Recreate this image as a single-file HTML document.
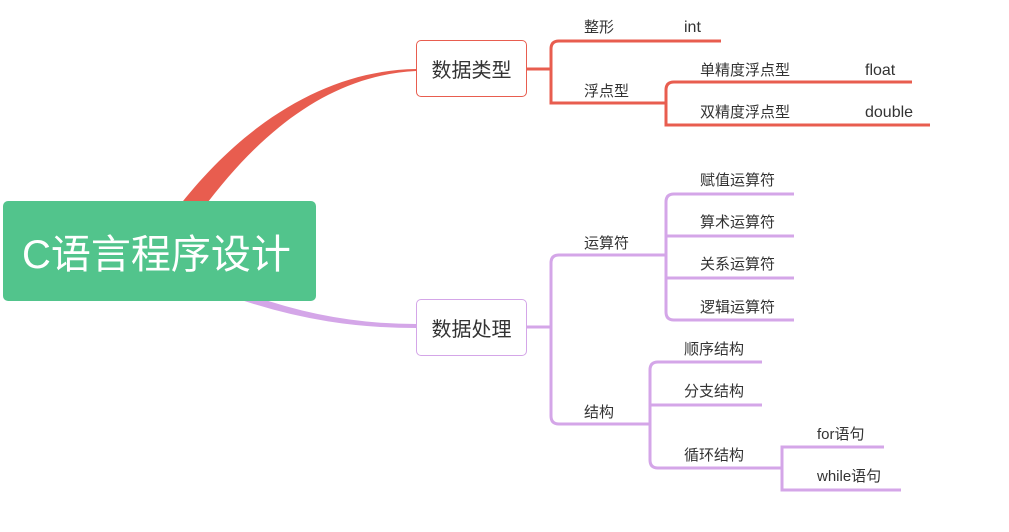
<!DOCTYPE html>
<html><head><meta charset="utf-8"><style>
body{margin:0;background:#fff;width:1009px;height:532px;overflow:hidden;position:relative;font-family:"Liberation Sans","Noto Sans CJK SC",sans-serif;}
.t{position:absolute;font-size:15px;color:#333;white-space:nowrap;line-height:18px;}
.n{position:absolute;box-sizing:border-box;background:#fff;border-radius:5px;font-size:20px;color:#333;display:flex;align-items:center;justify-content:center;}
</style></head><body>
<svg width="1009" height="532" style="position:absolute;left:0;top:0">
<path d="M176 210 C245 120 330 70 416 69 L416 71 C335 75 265 125 202 210 Z" fill="#e85d4f"/>
<path d="M230 295 C300 320 360 327 416 327 L416 325 C360 325 300 316 235 290 Z" fill="#d4a6e8" stroke="#d4a6e8" stroke-width="2"/>
<g fill="none" stroke="#e85d4f" stroke-width="3">
<path d="M527 69 H551"/>
<path d="M721 41 H559 Q551 41 551 49 V103 H666"/>
<path d="M912 82 H674 Q666 82 666 90 V125 H930"/>
</g>
<g fill="none" stroke="#d4a6e8" stroke-width="3">
<path d="M527 327 H551"/>
<path d="M666 255 H559 Q551 255 551 263 V416 Q551 424 559 424 H650"/>
<path d="M794 194 H674 Q666 194 666 202 V312 Q666 320 674 320 H794"/>
<path d="M666 236 H794 M666 278 H794"/>
<path d="M762 362 H658 Q650 362 650 370 V460 Q650 468 658 468 H782"/>
<path d="M650 405 H762"/>
<path d="M884 447 H782 V490 H901"/>
</g>
</svg>
<div class="n" style="left:3px;top:201px;width:313px;height:100px;background:#52c48c;color:#fff;font-size:40px;padding-right:6px;">C语言程序设计</div>
<div class="n" style="left:416px;top:40px;width:111px;height:57px;border:1px solid #e85d4f;">数据类型</div>
<div class="n" style="left:416px;top:299px;width:111px;height:57px;border:1px solid #d4a6e8;">数据处理</div>
<div class="t" style="left:584px;top:19px">整形</div>
<div class="t" style="left:684px;top:19px;font-size:16px">int</div>
<div class="t" style="left:584px;top:83px">浮点型</div>
<div class="t" style="left:700px;top:62px">单精度浮点型</div>
<div class="t" style="left:865px;top:62px;font-size:16px">float</div>
<div class="t" style="left:700px;top:104px">双精度浮点型</div>
<div class="t" style="left:865px;top:104px;font-size:16px">double</div>
<div class="t" style="left:584px;top:235px">运算符</div>
<div class="t" style="left:700px;top:172px">赋值运算符</div>
<div class="t" style="left:700px;top:214px">算术运算符</div>
<div class="t" style="left:700px;top:256px">关系运算符</div>
<div class="t" style="left:700px;top:299px">逻辑运算符</div>
<div class="t" style="left:584px;top:404px">结构</div>
<div class="t" style="left:684px;top:341px">顺序结构</div>
<div class="t" style="left:684px;top:383px">分支结构</div>
<div class="t" style="left:684px;top:447px">循环结构</div>
<div class="t" style="left:817px;top:426px">for语句</div>
<div class="t" style="left:817px;top:468px">while语句</div>
</body></html>
